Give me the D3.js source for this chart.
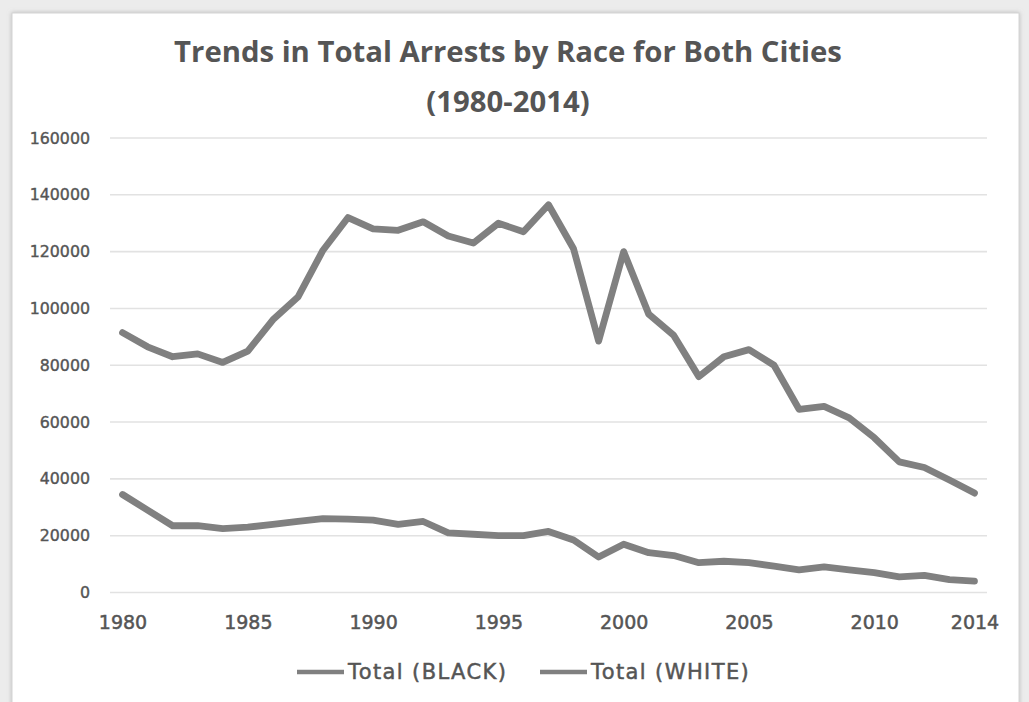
<!DOCTYPE html>
<html>
<head>
<meta charset="utf-8">
<script src="https://cdn.jsdelivr.net/npm/d3@7"></script>
<style>
  html, body { margin: 0; padding: 0; background: #ececec; }
  svg { display: block; }
</style>
</head>
<body>
<svg id="chart" width="1029" height="702"></svg>
<script>
// Annual totals of arrests, 1980–2014
const years = d3.range(1980, 2015);
const blackTotals = [
  91500, 86500, 83000, 84000, 81000, 85000, 96000, 104000, 120500, 132000,
  128000, 127500, 130500, 125500, 123000, 130000, 127000, 136500, 121000, 88500,
  120000, 98000, 90500, 76000, 83000, 85500, 80000, 64500, 65500, 61500,
  54500, 46000, 44000, 39600, 35000
];
const whiteTotals = [
  34500, 29000, 23500, 23500, 22500, 23000, 24000, 25000, 26000, 25800,
  25500, 24000, 25000, 21000, 20500, 20000, 20000, 21500, 18500, 12500,
  17000, 14000, 13000, 10500, 11000, 10500, 9300, 8000, 9000, 8000,
  7000, 5500, 6000, 4500, 4000
];
const seriesNames = ["Total (BLACK)", "Total (WHITE)"];
const yTicks = [0, 20000, 40000, 60000, 80000, 100000, 120000, 140000, 160000];
const xTickYears = [1980, 1985, 1990, 1995, 2000, 2005, 2010, 2014];
const titleLines = ["Trends in Total Arrests by Race for Both Cities", "(1980-2014)"];

const svg = d3.select("#chart");

// Card background with a soft edge
const defs = svg.append("defs");
const shadow = defs.append("filter").attr("id", "cardShadow")
  .attr("x", "-5%").attr("y", "-5%").attr("width", "110%").attr("height", "110%");
shadow.append("feDropShadow").attr("dx", 0).attr("dy", 0)
  .attr("stdDeviation", 2).attr("flood-color", "#9a9a9a").attr("flood-opacity", 0.6);

svg.append("rect").attr("x", 12).attr("y", 13).attr("width", 1007).attr("height", 700)
  .attr("fill", "#ffffff").attr("stroke", "#d4d4d4").attr("stroke-width", 1)
  .attr("filter", "url(#cardShadow)");

const plot = { left: 110, right: 987, top: 138, bottom: 592.5 };

const x = d3.scalePoint().domain(years).range([plot.left, plot.right]).padding(0.5);
const y = d3.scaleLinear().domain([0, 160000]).range([plot.bottom, plot.top]);

const textColor = "#555555";
const labelFont = "'DejaVu Sans', Verdana, sans-serif";

// Slightly heavier label strokes
function heavy(sel, w) {
  sel.attr("stroke", textColor).attr("stroke-width", w).attr("paint-order", "stroke");
}

// Horizontal gridlines
svg.append("g").attr("class", "grid")
  .selectAll("line").data(yTicks).join("line")
  .attr("x1", plot.left).attr("x2", plot.right)
  .attr("y1", d => y(d)).attr("y2", d => y(d))
  .attr("stroke", "#e2e2e2").attr("stroke-width", 1.6);

// Y axis labels
const yAxis = d3.axisLeft(y).tickValues(yTicks).tickFormat(d3.format("d")).tickSize(0).tickPadding(20);
const yG = svg.append("g").attr("transform", `translate(${plot.left},0)`).call(yAxis);
yG.select(".domain").remove();
yG.selectAll("text")
  .attr("fill", textColor)
  .style("font-family", labelFont)
  .style("font-size", "15.8px")
  .call(heavy, 0.4);

// X axis labels
const xAxis = d3.axisBottom(x).tickValues(xTickYears).tickSize(0).tickPadding(23);
const xG = svg.append("g").attr("transform", `translate(0,${plot.bottom})`).call(xAxis);
xG.select(".domain").remove();
xG.selectAll("text")
  .attr("fill", textColor)
  .style("font-family", labelFont)
  .style("font-size", "19px")
  .call(heavy, 0.5);

// Series lines
const line = d3.line().x((d, i) => x(years[i])).y(d => y(d));
const lineColor = "#808080";
[blackTotals, whiteTotals].forEach(values => {
  svg.append("path").datum(values)
    .attr("d", line)
    .attr("fill", "none")
    .attr("stroke", lineColor)
    .attr("stroke-width", 6.8)
    .attr("stroke-linejoin", "round")
    .attr("stroke-linecap", "round");
});

// Title
const title = svg.append("text")
  .attr("text-anchor", "middle")
  .attr("fill", textColor)
  .style("font-family", "'Open Sans', 'Noto Sans', sans-serif")
  .style("font-weight", 700)
  .style("font-size", "29.3px");
title.selectAll("tspan").data(titleLines).join("tspan")
  .attr("x", 508)
  .attr("y", (d, i) => 62 + i * 50)
  .text(d => d);

// Legend
const legendItems = [
  { name: seriesNames[0], x: 297 },
  { name: seriesNames[1], x: 540 }
];
const lg = svg.append("g").attr("class", "legend");
legendItems.forEach(item => {
  lg.append("line")
    .attr("x1", item.x).attr("x2", item.x + 47)
    .attr("y1", 672).attr("y2", 672)
    .attr("stroke", lineColor).attr("stroke-width", 4.5);
  lg.append("text")
    .attr("x", item.x + 51).attr("y", 679)
    .attr("fill", textColor)
    .style("font-family", labelFont)
    .style("font-size", "21px")
    .style("letter-spacing", "1.4px")
    .text(item.name)
    .call(heavy, 0.5);
});
</script>
</body>
</html>
